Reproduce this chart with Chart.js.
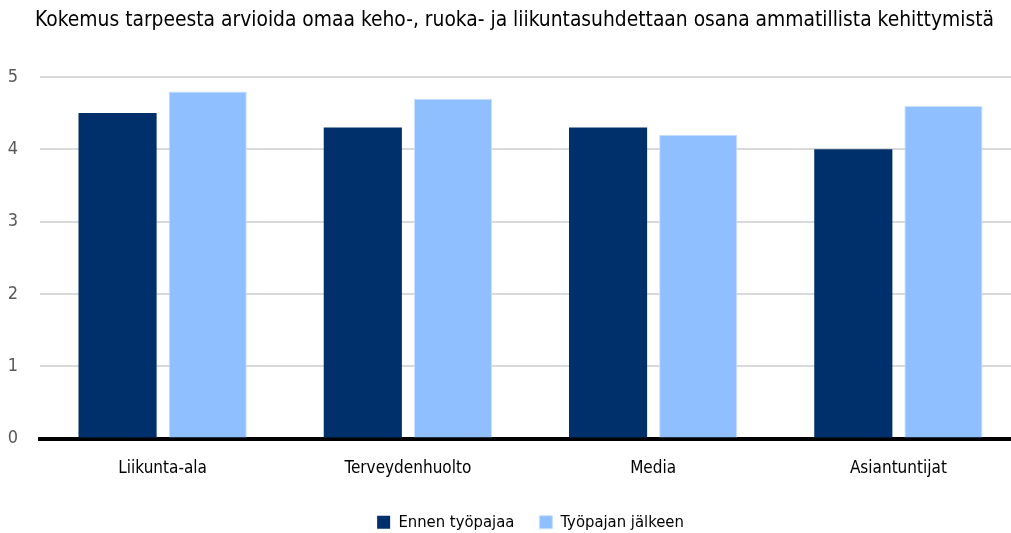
<!DOCTYPE html>
<html>
<head>
<meta charset="utf-8">
<script src="https://cdn.jsdelivr.net/npm/chart.js@4"></script>
<style>
  html, body { margin: 0; padding: 0; overflow: hidden; background: #fff; }
  canvas { display: block; }
</style>
</head>
<body>
<canvas id="barChart" width="1021" height="533"></canvas>
<script>
const categories = ['Liikunta-ala', 'Terveydenhuolto', 'Media', 'Asiantuntijat'];
const before = [4.5, 4.3, 4.3, 4.0];
const after = [4.8, 4.7, 4.2, 4.6];
const seriesNames = ['Ennen työpajaa', 'Työpajan jälkeen'];
const yTicks = [0, 1, 2, 3, 4, 5];

const FONT = "'DejaVu Sans Condensed', 'Liberation Sans Narrow', sans-serif";

const ctx = document.getElementById('barChart').getContext('2d');

const chart = new Chart(ctx, {
    type: 'bar',
    data: {
        labels: categories,
        datasets: [{
            label: seriesNames[0],
            data: before,
            backgroundColor: '#00306B',
            categoryPercentage: 0.735,
            barPercentage: 0.867,
        }, {
            label: seriesNames[1],
            data: after,
            backgroundColor: '#8FBFFF',
            borderColor: '#C9E0FF',
            borderWidth: 1,
            categoryPercentage: 0.735,
            barPercentage: 0.867,
        }],
    },
    options: {
        responsive: false,
        animation: false,
        layout: {
            // legend runs a bit past the bottom edge so its text sits low like the original
            padding: { left: 8, right: 0, top: 4, bottom: -7.5 },
        },
        plugins: {
            title: {
                display: true,
                text: 'Kokemus tarpeesta arvioida omaa keho-, ruoka- ja liikuntasuhdettaan osana ammatillista kehittymistä',
                color: '#000',
                font: { family: FONT, size: 20.8, weight: 'normal' },
                padding: { top: 4, bottom: 44 },
            },
            legend: {
                display: true,
                position: 'bottom',
                fullSize: false,
                labels: {
                    color: '#000',
                    font: { family: FONT, size: 16.5 },
                    boxWidth: 13,
                    boxHeight: 13,
                    padding: 25,
                },
            },
            tooltip: { enabled: false },
        },
        scales: {
            x: {
                afterFit: axis => { axis.height = 50.5; },
                grid: { display: false, drawTicks: false },
                border: { display: true, color: '#000', width: 4 },
                ticks: {
                    color: '#000',
                    padding: 20,
                    font: { family: FONT, size: 17 },
                },
            },
            y: {
                min: 0,
                max: 5,
                afterFit: axis => { axis.width = 32; },
                afterBuildTicks: axis => { axis.ticks = yTicks.map(v => ({ value: v })); },
                grid: { color: '#D9D9D9', lineWidth: 2, drawTicks: false },
                border: { display: false },
                ticks: {
                    color: '#595959',
                    padding: 22,
                    font: { family: FONT, size: 18 },
                },
            },
        },
    },
});
</script>
</body>
</html>
